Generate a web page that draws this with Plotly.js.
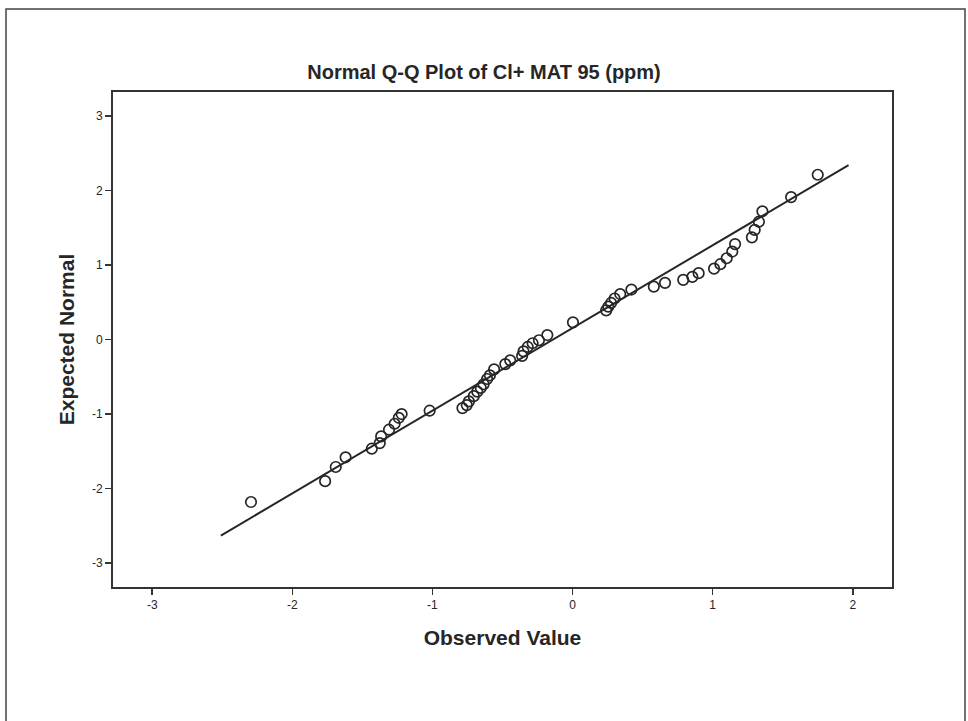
<!DOCTYPE html>
<html>
<head>
<meta charset="utf-8">
<script src="https://cdn.plot.ly/plotly-3.0.1.min.js"></script>
<style>
  html, body { margin: 0; padding: 0; background: #fff; }
  #chart { width: 968px; height: 721px; }
</style>
</head>
<body>
<div id="chart"></div>
<script>
const observedValue = [-2.295, -1.766, -1.69, -1.62, -1.433, -1.376, -1.366, -1.31, -1.27, -1.24,
  -1.22, -1.02, -0.786, -0.755, -0.74, -0.705, -0.68, -0.655, -0.635, -0.61,
  -0.59, -0.56, -0.48, -0.445, -0.36, -0.35, -0.32, -0.285, -0.24, -0.18,
  0.003, 0.24, 0.255, 0.275, 0.30, 0.34, 0.42, 0.58, 0.66, 0.79,
  0.855, 0.90, 1.01, 1.055, 1.10, 1.14, 1.16, 1.28, 1.30, 1.33,
  1.355, 1.56, 1.75];
const expectedNormal = [-2.18, -1.90, -1.71, -1.58, -1.465, -1.39, -1.30, -1.21, -1.13, -1.05,
  -1.00, -0.955, -0.92, -0.88, -0.83, -0.76, -0.70, -0.65, -0.60, -0.53,
  -0.48, -0.40, -0.33, -0.28, -0.22, -0.16, -0.10, -0.05, -0.01, 0.06,
  0.23, 0.39, 0.44, 0.49, 0.55, 0.61, 0.67, 0.71, 0.76, 0.80,
  0.84, 0.89, 0.95, 1.01, 1.09, 1.18, 1.28, 1.37, 1.47, 1.58,
  1.72, 1.91, 2.21];
// Reference line end points
const refLineX = [-2.51, 1.97];
const refLineY = [-2.63, 2.34];
// Tick labels
const xTickVals = [-3, -2, -1, 0, 1, 2];
const xTickText = ["-3", "-2", "-1", "0", "1", "2"];
const yTickVals = [-3, -2, -1, 0, 1, 2, 3];
const yTickText = ["-3", "-2", "-1", "0", "1", "2", "3"];

const ink = '#262626';
const font = 'Liberation Sans, Arial, sans-serif';

const traces = [
  {
    x: refLineX, y: refLineY, type: 'scatter', mode: 'lines',
    line: { color: ink, width: 2 }, hoverinfo: 'skip', showlegend: false
  },
  {
    x: observedValue, y: expectedNormal, type: 'scatter', mode: 'markers',
    marker: { symbol: 'circle-open', size: 10.5, color: ink, line: { width: 1.7, color: ink } },
    showlegend: false
  }
];

const axisCommon = {
  showgrid: false, zeroline: false, showline: true, mirror: true,
  linecolor: '#333', linewidth: 2,
  ticks: 'outside', ticklen: 6, tickwidth: 1.5, tickcolor: '#333',
  tickfont: { family: font, size: 12, color: ink },
  tickmode: 'array'
};

const layout = {
  width: 968, height: 721,
  paper_bgcolor: '#fff', plot_bgcolor: '#fff',
  margin: { l: 113, r: 76, t: 92, b: 134 },
  title: {
    text: '<b>Normal Q-Q Plot of Cl+ MAT 95 (ppm)</b>',
    font: { family: font, size: 20, color: ink },
    x: 0.5, xref: 'container', xanchor: 'center',
    y: 1 - 72 / 721, yref: 'container', yanchor: 'middle'
  },
  xaxis: Object.assign({}, axisCommon, {
    range: [-3.28, 2.28], tickvals: xTickVals, ticktext: xTickText,
    title: { text: '<b>Observed Value</b>', font: { family: font, size: 21, color: ink }, standoff: 19 }
  }),
  yaxis: Object.assign({}, axisCommon, {
    range: [-3.32, 3.32], tickvals: yTickVals, ticktext: yTickText,
    title: { text: '<b>Expected Normal</b>', font: { family: font, size: 21, color: ink }, standoff: 12 }
  }),
  shapes: [
    {
      type: 'rect', xref: 'paper', yref: 'paper',
      x0: (6 - 113) / 779, x1: (965 - 113) / 779,
      y0: (587 - 740) / 495, y1: (587 - 9) / 495,
      line: { color: '#444', width: 1.5 }, fillcolor: 'rgba(0,0,0,0)', layer: 'below'
    }
  ]
};

Plotly.newPlot('chart', traces, layout, { displayModeBar: false, staticPlot: true });
</script>
</body>
</html>
